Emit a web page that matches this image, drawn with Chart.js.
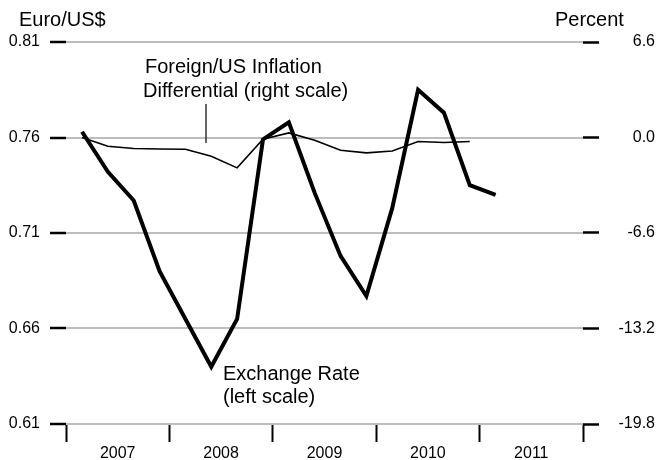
<!DOCTYPE html>
<html>
<head>
<meta charset="utf-8">
<script src="https://cdn.jsdelivr.net/npm/chart.js@4"></script>
<style>
  html, body { margin: 0; padding: 0; background: #fff; }
  canvas { display: block; }
</style>
</head>
<body>
<canvas id="fxChart" width="660" height="460"></canvas>
<script>
const quarters = ['2007Q1', '2007Q2', '2007Q3', '2007Q4', '2008Q1', '2008Q2', '2008Q3', '2008Q4',
  '2009Q1', '2009Q2', '2009Q3', '2009Q4', '2010Q1', '2010Q2', '2010Q3', '2010Q4', '2011Q1'];
const exchangeRate = [0.763, 0.742, 0.727, 0.690, 0.665, 0.640, 0.665, 0.759,
  0.768, 0.731, 0.698, 0.677, 0.723, 0.785, 0.773, 0.735, 0.730];
const inflationDiff = [0.0, -0.60, -0.76, -0.79, -0.81, -1.29, -2.10, -0.12,
  0.32, -0.19, -0.88, -1.06, -0.93, -0.28, -0.35, -0.28];
const years = ['2007', '2008', '2009', '2010', '2011'];
const leftTicks = [0.61, 0.66, 0.71, 0.76, 0.81];
const rightTicks = [-19.8, -13.2, -6.6, 0.0, 6.6];

const FONT = '"Liberation Sans", Arial, Helvetica, sans-serif';

// 'YYYYQn' -> decimal year, point drawn a little past the middle of the quarter
function quarterToYear(q) {
  return parseInt(q.slice(0, 4)) + (parseInt(q.slice(5)) - 1) / 4 + 0.155;
}

const fxPoints = exchangeRate.map((v, i) => ({ x: quarterToYear(quarters[i]), y: v }));
const inflPoints = inflationDiff.map((v, i) => ({ x: quarterToYear(quarters[i]), y: v }));

// text labels and the little pointer line
const notesPlugin = {
  id: 'notes',
  afterDraw(chart) {
    const c = chart.ctx;
    c.save();
    c.fillStyle = '#000';
    c.textBaseline = 'middle';
    c.textAlign = 'left';
    c.font = '20px ' + FONT;
    c.fillText('Euro/US$', 19, 20);
    c.fillText('Percent', 555, 20);
    c.fillText('Foreign/US Inflation', 145, 67);
    c.fillText('Differential (right scale)', 143, 91);
    c.fillText('Exchange Rate', 223, 374);
    c.fillText('(left scale)', 223, 397);

    c.strokeStyle = '#333';
    c.lineWidth = 1.5;
    c.beginPath();
    c.moveTo(206, 104);
    c.lineTo(206, 143);
    c.stroke();
    c.restore();
  }
};

const ctx = document.getElementById('fxChart').getContext('2d');

new Chart(ctx, {
  type: 'line',
  data: {
    datasets: [
      {
        label: 'Exchange Rate',
        data: fxPoints,
        yAxisID: 'y',
        borderColor: '#000',
        borderWidth: 4,
        borderJoinStyle: 'miter',
        pointRadius: 0,
        tension: 0
      },
      {
        label: 'Foreign/US Inflation Differential',
        data: inflPoints,
        yAxisID: 'y1',
        borderColor: '#000',
        borderWidth: 1.6,
        pointRadius: 0,
        tension: 0
      }
    ]
  },
  options: {
    responsive: false,
    animation: false,
    layout: { padding: { top: 42, left: 0, right: 5, bottom: 0 } },
    plugins: {
      legend: { display: false },
      tooltip: { enabled: false }
    },
    scales: {
      x: {
        type: 'linear',
        min: parseInt(years[0]),
        max: parseInt(years[years.length - 1]) + 1,
        afterBuildTicks: axis => {
          const t = [];
          years.forEach(y => {
            t.push({ value: parseInt(y) });
            t.push({ value: parseInt(y) + 0.5 });
          });
          t.push({ value: parseInt(years[years.length - 1]) + 1 });
          axis.ticks = t;
        },
        afterFit: axis => { axis.height = 36; },
        border: { display: false },
        grid: {
          drawOnChartArea: false,
          tickLength: 18,
          tickWidth: 2,
          tickColor: c => (c.tick && c.tick.value % 1 === 0) ? '#000' : 'rgba(0,0,0,0)'
        },
        ticks: {
          autoSkip: false,
          maxRotation: 0,
          padding: 2,
          color: '#000',
          font: { family: FONT, size: 16 },
          callback: v => (v % 1 !== 0) ? String(Math.floor(v)) : ''
        }
      },
      y: {
        position: 'left',
        min: leftTicks[0],
        max: leftTicks[leftTicks.length - 1],
        afterBuildTicks: axis => { axis.ticks = leftTicks.map(v => ({ value: v })); },
        afterFit: axis => { axis.width = 66; },
        border: { display: false },
        grid: {
          color: '#bdbdbd',
          lineWidth: 2,
          tickColor: '#000',
          tickLength: 16,
          tickWidth: 2.5
        },
        ticks: {
          padding: 10,
          color: '#000',
          font: { family: FONT, size: 16 },
          callback: v => v.toFixed(2)
        }
      },
      y1: {
        position: 'right',
        min: rightTicks[0],
        max: rightTicks[rightTicks.length - 1],
        afterBuildTicks: axis => { axis.ticks = rightTicks.map(v => ({ value: v })); },
        afterFit: axis => { axis.width = 72; },
        border: { display: false },
        grid: {
          drawOnChartArea: false,
          tickColor: '#000',
          tickLength: 16,
          tickWidth: 2.5
        },
        ticks: {
          crossAlign: 'far',
          padding: 10,
          color: '#000',
          font: { family: FONT, size: 16 },
          callback: v => v.toFixed(1)
        }
      }
    }
  },
  plugins: [notesPlugin]
});
</script>
</body>
</html>
